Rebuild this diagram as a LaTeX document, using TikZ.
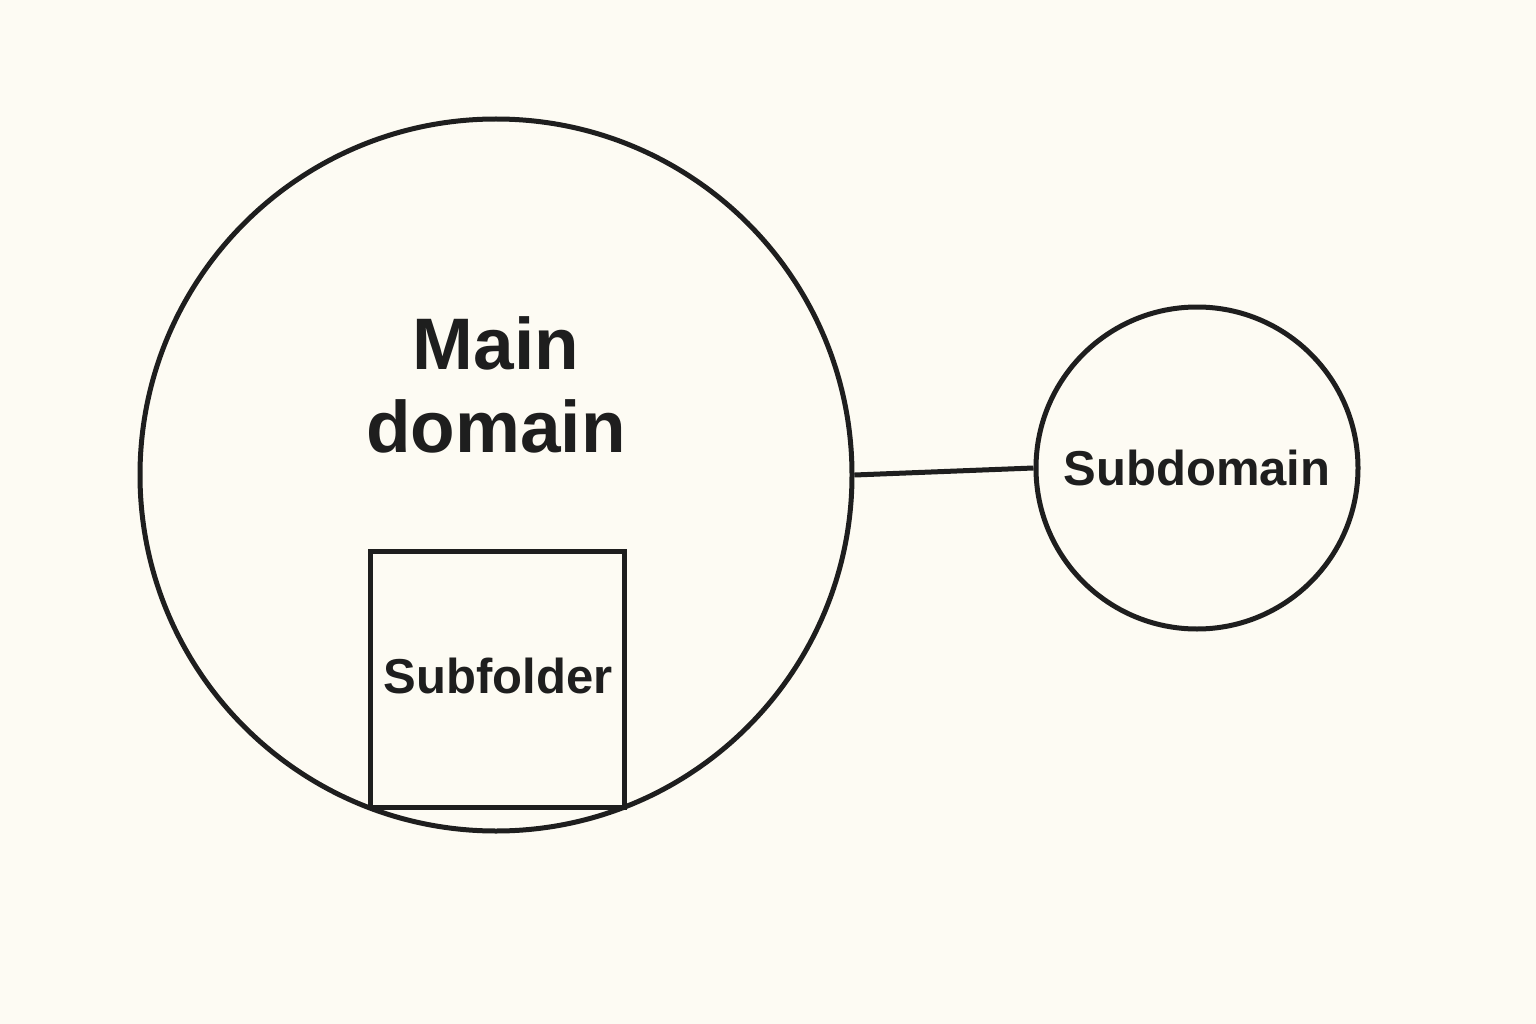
\documentclass[tikz,border=0pt]{standalone}
\usepackage{fontspec}
\setmainfont{Liberation Sans}
\definecolor{bg}{HTML}{FDFBF3}
\definecolor{ink}{HTML}{1E1E1E}
\begin{document}
\begin{tikzpicture}[x=1pt,y=-1pt,
  shape line/.style={draw=ink,line width=5pt},
  lbl/.style={text=ink,font=\bfseries\fontsize{49}{58}\selectfont,inner sep=0pt}]
\fill[bg] (0,0) rectangle (1536,1024);
\useasboundingbox (0,0) rectangle (1536,1024);
\node[shape line,circle,minimum size=712pt,inner sep=0pt] (main) at (496,475) {};
\node[shape line,circle,minimum size=322pt,inner sep=0pt] (sub) at (1197,468) {};
\draw[shape line] (main.east) -- (sub.west);
\node[shape line,rectangle,minimum width=254pt,minimum height=256pt,inner sep=0pt] (folder) at (497,679) {};
\node[text=ink,font=\bfseries\fontsize{73}{83}\selectfont,align=center,inner sep=0pt] (mainlbl) at (496,385) {Main\\domain};
\node[lbl] (sublbl) at (1197,468) {Subdomain};
\node[lbl] (folderlbl) at (498,676) {Subfolder};
\end{tikzpicture}
\end{document}
